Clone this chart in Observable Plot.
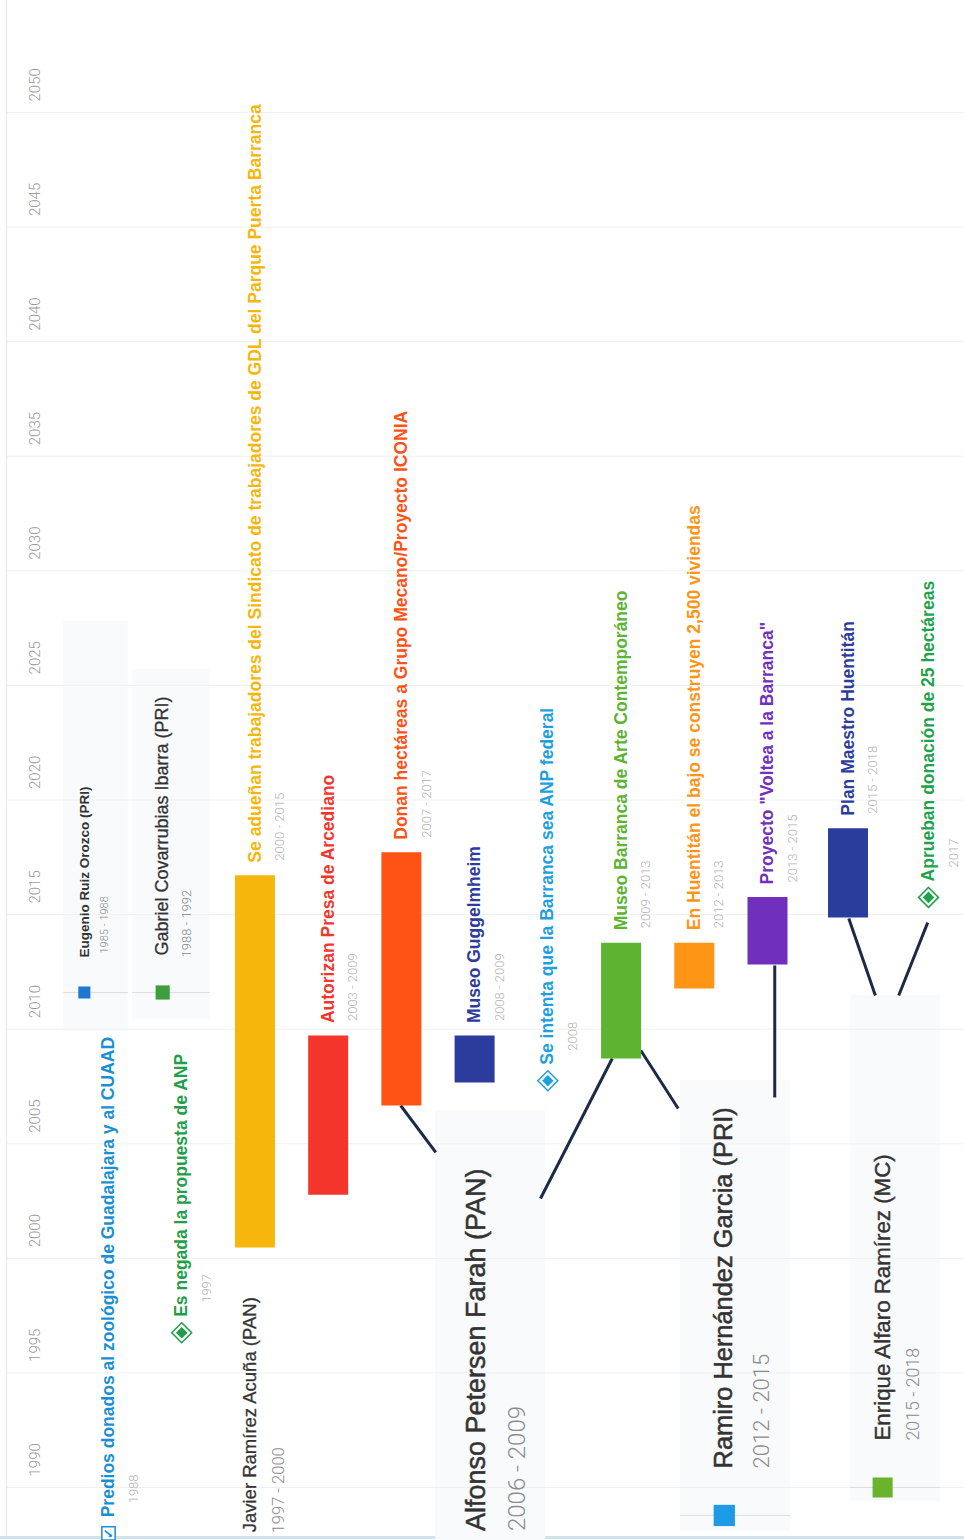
<!DOCTYPE html>
<html>
<head>
<meta charset="utf-8">
<script src="https://cdn.jsdelivr.net/npm/d3@7"></script>
<script src="https://cdn.jsdelivr.net/npm/@observablehq/plot@0.6"></script>
<style>
  body { margin: 0; background: #fff; }
  #wrap { position: relative; width: 964px; height: 1540px; overflow: hidden; background: #fff; }
  #wrap .edgeL { position: absolute; left: 6px; top: 0; width: 1px; height: 1536px; background: #e6e6e6; }
  #wrap .edgeB { position: absolute; left: 0; top: 1536px; width: 964px; height: 3px; background: #cfe4ec; }
  #wrap svg { position: absolute; left: 0; top: 0; }
</style>
</head>
<body>
<div id="wrap"><div class="edgeL"></div><div class="edgeB"></div></div>
<script>
// ---------------- DATA ----------------
const tickYears = [1990, 1995, 2000, 2005, 2010, 2015, 2020, 2025, 2030, 2035, 2040, 2045, 2050];

const eventTitles = [
  "Predios donados al zoológico de Guadalajara y al CUAAD",
  "Es negada la propuesta de ANP",
  "Se adueñan trabajadores del Sindicato de trabajadores de GDL del Parque Puerta Barranca",
  "Autorizan Presa de Arcediano",
  "Donan hectáreas a Grupo Mecano/Proyecto ICONIA",
  "Museo Guggelmheim",
  "Se intenta que la Barranca sea ANP federal",
  "Museo Barranca de Arte Contemporáneo",
  "En Huentitán el bajo se construyen 2,500 viviendas",
  "Proyecto \"Voltea a la Barranca\"",
  "Plan Maestro Huentitán",
  "Aprueban donación de 25 hectáreas"
];
const eventDates = ["1988", "1997", "2000 - 2015", "2003 - 2009", "2007 - 2017", "2008 - 2009",
  "2008", "2009 - 2013", "2012 - 2013", "2013 - 2015", "2015 - 2018", "2017"];
const eventKinds = ["check", "diamond", "bar", "bar", "bar", "bar", "diamond", "bar", "bar", "bar", "bar", "diamond"];
// position on the year axis (bars: start/end)
const eventStart = [1988.0, 1996.75, 2000.45, 2002.75, 2006.65, 2007.65, 2007.75, 2008.7, 2011.75, 2012.8, 2014.85, 2015.75];
const eventEnd   = [null, null, 2016.7, 2009.7, 2017.7, 2009.7, null, 2013.75, 2013.75, 2015.75, 2018.75, null];
const eventColors = ["#1b8fd2", "#1f9f4a", "#f6b60c", "#f4352c", "#ff5214", "#2b3c9c",
  "#1ea0e0", "#5cb431", "#ff9415", "#7030bd", "#2b3d9c", "#1ea34a"];

const presNames = [
  "Eugenio Ruiz Orozco (PRI)",
  "Gabriel Covarrubias Ibarra (PRI)",
  "Javier Ramírez Acuña (PAN)",
  "Alfonso Petersen Farah (PAN)",
  "Ramiro Hernández Garcia (PRI)",
  "Enrique Alfaro Ramírez (MC)"
];
const presTerms = ["1985 - 1988", "1988 - 1992", "1997 - 2000", "2006 - 2009", "2012 - 2015", "2015 - 2018"];
const presLane = [-0.33, 0.74, 1.94, 5.03, 8.41, 10.43];
const presYear = [2011.6, 2011.6, 1986.3, 1985.7, 1988.78, 1990.0];
const presColors = ["#1e78d2", "#3c9e3c", "#1e78d2", "#1e78d2", "#1e9be6", "#6ab42d"];

// card panels (lane / year extents)
const panelOwner = ["Eugenio Ruiz Orozco (PRI)", "Gabriel Covarrubias Ibarra (PRI)", "Alfonso Petersen Farah (PAN)",
  "Ramiro Hernández Garcia (PRI)", "Enrique Alfaro Ramírez (MC)"];
const panelLane1 = [-0.61, 0.33, 4.47, 7.81, 10.03];
const panelLane2 = [0.27, 1.39, 5.97, 9.29, 11.15];
const panelTop   = [2027.8, 2025.7, 2006.45, 2007.76, 2011.47];
const panelBase  = [2009.9, 2010.4, 1987.7, 1988.1, 1989.4];

// connectors between events and cards
const connFrom  = [4, 7, 7, 9, 10, 11];
const connTo    = ["Alfonso Petersen Farah (PAN)", "Alfonso Petersen Farah (PAN)", "Ramiro Hernández Garcia (PRI)",
  "Ramiro Hernández Garcia (PRI)", "Enrique Alfaro Ramírez (MC)", "Enrique Alfaro Ramírez (MC)"];
const connLane1 = [3.99, 6.88, 7.27, 9.09, 10.01, 10.99];
const connYear1 = [2006.67, 2008.72, 2009.07, 2012.78, 2014.83, 2014.65];
const connLane2 = [4.47, 5.90, 7.78, 9.09, 10.34, 10.63];
const connYear2 = [2004.62, 2002.61, 2006.54, 2007.02, 2011.47, 2011.47];

// ---------------- TABLES ----------------
const events = eventTitles.map((t, i) => ({
  title: t, date: eventDates[i], kind: eventKinds[i], lane: i,
  start: eventStart[i], end: eventEnd[i], color: eventColors[i],
  top: eventEnd[i] == null ? eventStart[i] : eventEnd[i]
}));
const bars = events.filter(d => d.kind === "bar");
const points = events.filter(d => d.kind !== "bar");
const diamonds = events.filter(d => d.kind === "diamond");
const checks = events.filter(d => d.kind === "check");

const pres = presNames.map((n, i) => ({name: n, term: presTerms[i], lane: presLane[i], year: presYear[i], color: presColors[i]}));
const panels = panelOwner.map((n, i) => ({owner: n, x1: panelLane1[i], x2: panelLane2[i], y1: panelBase[i], y2: panelTop[i],
  base: pres.find(p => p.name === n).year}));
const conns = connFrom.map((f, i) => ({from: eventTitles[f], to: connTo[i], x1: connLane1[i], y1: connYear1[i], x2: connLane2[i], y2: connYear2[i]}));

// ---------------- STYLES ----------------
const SANS = "'Liberation Sans', Arial, sans-serif";
const LIGHT = "Roboto, 'Liberation Sans', sans-serif";
const presStyle = [
  {nameSize: 13.5, nameWeight: 700, nameStroke: 0, nameDy: -35, dateSize: 11, dateDx: 20, dateDy: -39, r: 6.8},
  {nameSize: 18, nameWeight: 400, nameStroke: 0.3, nameDy: -37, dateSize: 13, dateDx: 24, dateDy: -35, r: 8},
  {nameSize: 18.5, nameWeight: 400, nameStroke: 0.3, nameDy: -40, dateSize: 16.5, dateDx: 28, dateDy: -39, r: 0},
  {nameSize: 27, nameWeight: 400, nameStroke: 0.5, nameDy: -55, dateSize: 24, dateDx: 41, dateDy: -55, r: 0},
  {nameSize: 25.4, nameWeight: 400, nameStroke: 0.5, nameDy: -47, dateSize: 22, dateDx: 38, dateDy: -47, r: 12},
  {nameSize: 22.3, nameWeight: 400, nameStroke: 0.4, nameDy: -47, dateSize: 17.8, dateDx: 31, dateDy: -47, r: 11.3}
];

const presMarks = [];
pres.forEach((p, i) => {
  const s = presStyle[i];
  if (s.r > 0) presMarks.push(Plot.dot([p], {x: "lane", y: "year", symbol: "square", r: s.r, fill: "color"}));
  presMarks.push(Plot.text([p], {x: "lane", y: "year", text: "name", rotate: -90, textAnchor: "start",
    dy: s.nameDy, fontSize: s.nameSize, fontWeight: s.nameWeight, fontFamily: SANS, fill: "#333333",
    stroke: s.nameStroke > 0 ? "#333333" : "none", strokeWidth: s.nameStroke}));
  presMarks.push(Plot.text([p], {x: "lane", y: "year", text: "term", rotate: -90, textAnchor: "start",
    dx: s.dateDx, dy: s.dateDy, fontSize: s.dateSize, fontWeight: 300, fontFamily: LIGHT, fill: "#8c8c8c"}));
});

const chart = Plot.plot({
  width: 964,
  height: 1540,
  marginTop: 0, marginRight: 0, marginBottom: 0, marginLeft: 7,
  x: {type: "linear", domain: [0, 9, 11], range: [108, 767, 928], axis: null},
  y: {type: "linear", domain: [1990, 2050], range: [1487, 112], axis: null},
  color: {type: "identity"},
  style: {background: "transparent", overflow: "hidden"},
  marks: [
    // card panels
    Plot.rect(panels, {x1: "x1", x2: "x2", y1: "y1", y2: "y2", fill: "#f8fafc"}),
    // grid
    Plot.ruleY(tickYears, {stroke: "#f0f0f0", strokeWidth: 1}),
    Plot.text(tickYears, {y: d => d, text: d => String(d), frameAnchor: "left", dx: 28, dy: -11,
      rotate: -90, textAnchor: "start", fontSize: 15, fontWeight: 300, fontFamily: LIGHT, fill: "#9a9a9a"}),
    // card base lines
    Plot.ruleY(panels, {y: "base", x1: "x1", x2: "x2", stroke: "#dedede", strokeWidth: 1}),
    // connectors
    Plot.link(conns, {x1: "x1", y1: "y1", x2: "x2", y2: "y2", stroke: "#1b2a47", strokeWidth: 3}),
    // bars
    Plot.ruleX(bars, {x: "lane", y1: "start", y2: "end", stroke: "color", strokeWidth: 40}),
    // markers
    Plot.dot(diamonds, {x: "lane", y: "start", symbol: "diamond2", r: 9, fill: "white", stroke: "color", strokeWidth: 1.5}),
    Plot.dot(diamonds, {x: "lane", y: "start", symbol: "diamond2", r: 5.2, fill: "color"}),
    Plot.dot(checks, {x: "lane", y: "start", symbol: "square", r: 7.5, fill: "white", stroke: "color", strokeWidth: 1.5}),
    Plot.text(checks, {x: "lane", y: "start", text: () => "✓", rotate: -90, fontSize: 13, fill: "color", fontWeight: 700}),
    // event titles
    Plot.text(bars, {x: "lane", y: "top", text: "title", rotate: -90, textAnchor: "start", dy: -13,
      fontSize: 17.5, fontWeight: 700, fontFamily: SANS, fill: "color"}),
    Plot.text(points, {x: "lane", y: "top", text: "title", rotate: -90, textAnchor: "start", dy: -16,
      fontSize: 17.5, fontWeight: 700, fontFamily: SANS, fill: "color"}),
    // event dates
    Plot.text(bars, {x: "lane", y: "top", text: "date", rotate: -90, textAnchor: "start", dx: 25, dy: -15,
      fontSize: 13, fontWeight: 300, fontFamily: LIGHT, fill: "#b3b3b3"}),
    Plot.text(points, {x: "lane", y: "top", text: "date", rotate: -90, textAnchor: "start", dx: 25, dy: -30,
      fontSize: 13, fontWeight: 300, fontFamily: LIGHT, fill: "#b3b3b3"}),
    // presidents
    ...presMarks
  ]
});
document.getElementById("wrap").appendChild(chart);
</script>
</body>
</html>
